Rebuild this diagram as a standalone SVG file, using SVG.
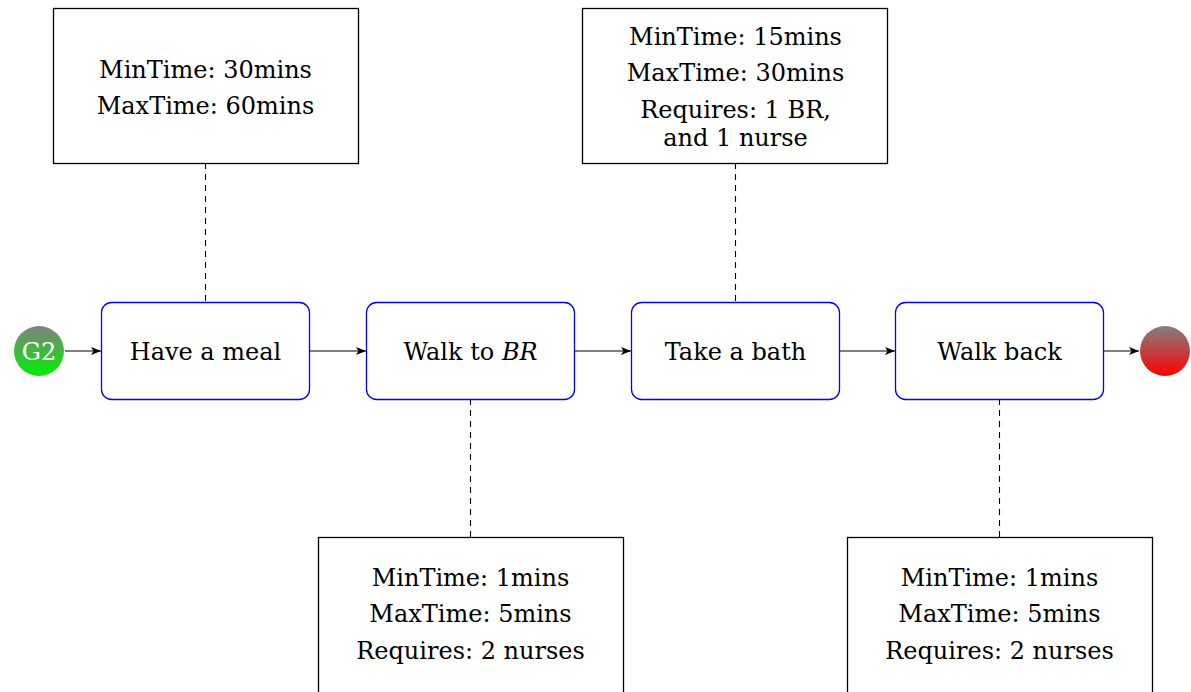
<svg xmlns="http://www.w3.org/2000/svg" width="1191" height="692" viewBox="0 0 1191 692" font-family="'DejaVu Serif', serif">
<style>
text{font-size:24px;fill:#000;text-anchor:middle}
.task{fill:#fff;stroke:#00f;stroke-width:1.3}
.note{fill:#fff;stroke:#000;stroke-width:1.3}
.dash{stroke:#000;stroke-width:1.1;stroke-dasharray:6,5;fill:none}
.arr{stroke:#000;stroke-width:1.1;fill:none;marker-end:url(#ah)}
</style>
<defs>
<marker id="ah" viewBox="0 0 10 8" refX="10" refY="4" markerWidth="10" markerHeight="8" markerUnits="userSpaceOnUse" orient="auto"><path d="M0,0 L10,4 L0,8 L2.5,4 Z" fill="#000"/></marker>
<linearGradient id="gs" x1="0" y1="0" x2="0" y2="1"><stop offset="0" stop-color="#808080"/><stop offset="1" stop-color="#00f000"/></linearGradient>
<linearGradient id="ge" x1="0" y1="0" x2="0" y2="1"><stop offset="0" stop-color="#808080"/><stop offset="1" stop-color="#ff0000"/></linearGradient>
</defs>
<rect width="1191" height="692" fill="#fff"/>
<g id="connectors">
<line class="arr" x1="65" y1="351" x2="101" y2="351"/>
<line class="arr" x1="309" y1="351" x2="366" y2="351"/>
<line class="arr" x1="574" y1="351" x2="631" y2="351"/>
<line class="arr" x1="839" y1="351" x2="895" y2="351"/>
<line class="arr" x1="1103" y1="351" x2="1139" y2="351"/>
<line class="dash" x1="205.5" y1="163" x2="205.5" y2="302"/>
<line class="dash" x1="735.5" y1="163" x2="735.5" y2="302"/>
<line class="dash" x1="470.5" y1="399" x2="470.5" y2="537"/>
<line class="dash" x1="999.5" y1="399" x2="999.5" y2="537"/>
</g>
<g id="start">
<circle cx="39" cy="351" r="25" fill="url(#gs)"/>
<text x="39" y="360" style="fill:#fff;font-size:24px">G2</text>
</g>
<g id="end">
<circle cx="1165" cy="351" r="25" fill="url(#ge)"/>
</g>
<g id="task1">
<rect class="task" x="101.5" y="302.5" width="208" height="97" rx="10"/>
<text x="205.5" y="360">Have a meal</text>
</g>
<g id="task2">
<rect class="task" x="366.5" y="302.5" width="208" height="97" rx="10"/>
<text x="470.5" y="360">Walk to <tspan font-style="italic">BR</tspan></text>
</g>
<g id="task3">
<rect class="task" x="631.5" y="302.5" width="208" height="97" rx="10"/>
<text x="735.5" y="360">Take a bath</text>
</g>
<g id="task4">
<rect class="task" x="895.5" y="302.5" width="208" height="97" rx="10"/>
<text x="999.5" y="360">Walk back</text>
</g>
<g id="note1">
<rect class="note" x="53.5" y="8.5" width="305" height="155"/>
<text x="205.5" y="78">MinTime: 30mins</text>
<text x="205.5" y="114">MaxTime: 60mins</text>
</g>
<g id="note3">
<rect class="note" x="582.5" y="8.5" width="305" height="155"/>
<text x="735.5" y="45">MinTime: 15mins</text>
<text x="735.5" y="81">MaxTime: 30mins</text>
<text x="735.5" y="118">Requires: 1 BR,</text>
<text x="735.5" y="146">and 1 nurse</text>
</g>
<g id="note2">
<rect class="note" x="318.5" y="537.5" width="305" height="170"/>
<text x="470.5" y="586">MinTime: 1mins</text>
<text x="470.5" y="622">MaxTime: 5mins</text>
<text x="470.5" y="659">Requires: 2 nurses</text>
</g>
<g id="note4">
<rect class="note" x="847.5" y="537.5" width="305" height="170"/>
<text x="999.5" y="586">MinTime: 1mins</text>
<text x="999.5" y="622">MaxTime: 5mins</text>
<text x="999.5" y="659">Requires: 2 nurses</text>
</g>
</svg>
